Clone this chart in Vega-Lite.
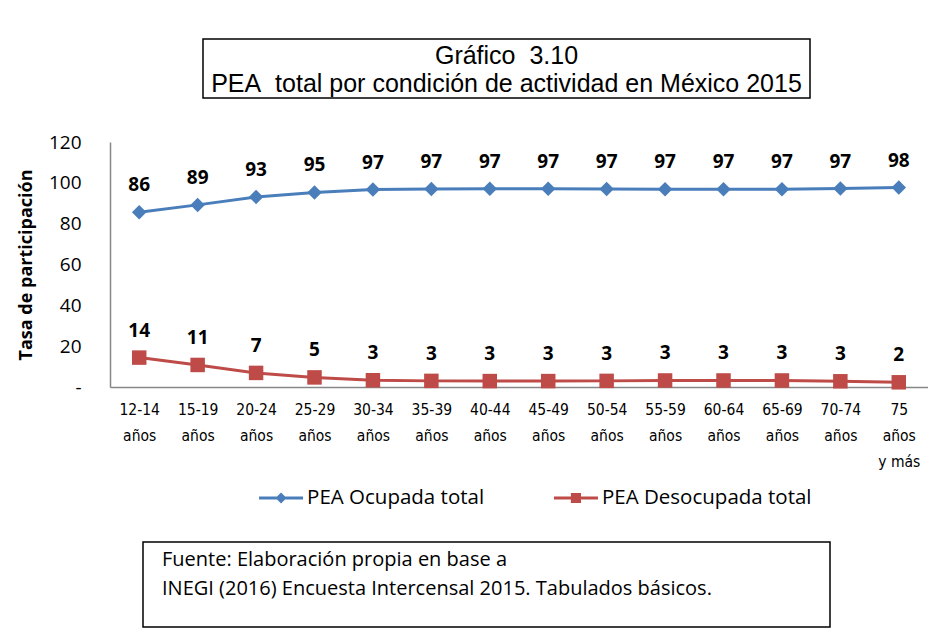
{
  "$schema": "https://vega.github.io/schema/vega-lite/v6.json",
  "background": "white",
  "padding": {"left": 17, "top": 38, "right": 0, "bottom": 0},
  "config": {"view": {"stroke": null}},
  "spacing": 13,
  "resolve": {"scale": {"color": "independent", "shape": "independent"}, "legend": {"color": "independent", "shape": "independent"}},
  "vconcat": [
    {
      "spacing": 0,
      "hconcat": [
        {
          "width": 92, "height": 81,
          "data": {"values": [{"t": ""}]},
          "mark": {"type": "text"},
          "encoding": {"text": {"field": "t"}}
        },
        {
          "width": 607, "height": 59,
          "view": {"stroke": "#000000", "strokeWidth": 1.5},
          "data": {"values": [{"t": "Gráfico\u00a0 3.10\nPEA\u00a0 total por condición de actividad en México 2015"}]},
          "mark": {"type": "text", "lineBreak": "\n", "font": "Liberation Sans", "fontSize": 25, "lineHeight": 28, "align": "center", "baseline": "middle", "dy": -13, "color": "#000000"},
          "encoding": {"text": {"field": "t"}}
        }
      ]
    },
    {
      "width": 818,
      "height": 245,
      "data": {"values": [
        {"edad": "12-14 años", "serie": "PEA Ocupada total", "tasa": 85.6},
        {"edad": "15-19 años", "serie": "PEA Ocupada total", "tasa": 89.2},
        {"edad": "20-24 años", "serie": "PEA Ocupada total", "tasa": 93.1},
        {"edad": "25-29 años", "serie": "PEA Ocupada total", "tasa": 95.3},
        {"edad": "30-34 años", "serie": "PEA Ocupada total", "tasa": 96.7},
        {"edad": "35-39 años", "serie": "PEA Ocupada total", "tasa": 97.0},
        {"edad": "40-44 años", "serie": "PEA Ocupada total", "tasa": 97.1},
        {"edad": "45-49 años", "serie": "PEA Ocupada total", "tasa": 97.1},
        {"edad": "50-54 años", "serie": "PEA Ocupada total", "tasa": 97.0},
        {"edad": "55-59 años", "serie": "PEA Ocupada total", "tasa": 96.8},
        {"edad": "60-64 años", "serie": "PEA Ocupada total", "tasa": 96.8},
        {"edad": "65-69 años", "serie": "PEA Ocupada total", "tasa": 96.8},
        {"edad": "70-74 años", "serie": "PEA Ocupada total", "tasa": 97.2},
        {"edad": "75 años y más", "serie": "PEA Ocupada total", "tasa": 97.7},
        {"edad": "12-14 años", "serie": "PEA Desocupada total", "tasa": 14.4},
        {"edad": "15-19 años", "serie": "PEA Desocupada total", "tasa": 10.8},
        {"edad": "20-24 años", "serie": "PEA Desocupada total", "tasa": 6.9},
        {"edad": "25-29 años", "serie": "PEA Desocupada total", "tasa": 4.7},
        {"edad": "30-34 años", "serie": "PEA Desocupada total", "tasa": 3.3},
        {"edad": "35-39 años", "serie": "PEA Desocupada total", "tasa": 3.0},
        {"edad": "40-44 años", "serie": "PEA Desocupada total", "tasa": 2.9},
        {"edad": "45-49 años", "serie": "PEA Desocupada total", "tasa": 2.9},
        {"edad": "50-54 años", "serie": "PEA Desocupada total", "tasa": 3.0},
        {"edad": "55-59 años", "serie": "PEA Desocupada total", "tasa": 3.2},
        {"edad": "60-64 años", "serie": "PEA Desocupada total", "tasa": 3.2},
        {"edad": "65-69 años", "serie": "PEA Desocupada total", "tasa": 3.2},
        {"edad": "70-74 años", "serie": "PEA Desocupada total", "tasa": 2.8},
        {"edad": "75 años y más", "serie": "PEA Desocupada total", "tasa": 2.3}
      ]},
      "encoding": {
        "x": {
          "field": "edad", "type": "ordinal", "sort": null,
          "scale": {"type": "point", "padding": 0.5},
          "axis": {
            "title": null, "labelAngle": 0, "ticks": false, "grid": false,
            "domainColor": "#868686", "domainWidth": 1.5,
            "labelFont": "DejaVu Sans Condensed", "labelFontSize": 15.5, "labelColor": "#000000",
            "labelPadding": 15, "labelLineHeight": 26, "labelBaseline": "top", "labelOverlap": false, "labelBound": false,
            "labelExpr": "datum.label == '75 años y más' ? ['75', 'años', 'y más'] : split(datum.label, ' ')"
          }
        },
        "y": {
          "field": "tasa", "type": "quantitative",
          "scale": {"domain": [0, 120], "nice": false},
          "axis": {
            "title": "Tasa de participación", "titleFont": "Open Sans", "titleFontWeight": "bold", "titleFontSize": 18, "titleColor": "#000000", "titlePadding": 13,
            "values": [0, 20, 40, 60, 80, 100, 120],
            "labelExpr": "datum.value == 0 ? '-\u00a0\u00a0' : datum.label",
            "labelFont": "Open Sans", "labelFontSize": 19, "labelColor": "#000000", "labelPadding": 29,
            "ticks": false, "grid": false, "domainColor": "#868686", "domainWidth": 1.5
          }
        },
        "color": {
          "field": "serie", "type": "nominal",
          "scale": {"domain": ["PEA Ocupada total", "PEA Desocupada total"], "range": ["#4A7EBB", "#BE4B48"]},
          "legend": null
        }
      },
      "layer": [
        {"mark": {"type": "line", "strokeWidth": 3}},
        {
          "mark": {"type": "point", "filled": true, "opacity": 1, "size": 210},
          "encoding": {
            "shape": {"field": "serie", "type": "nominal", "scale": {"domain": ["PEA Ocupada total", "PEA Desocupada total"], "range": ["diamond", "square"]}, "legend": null}
          }
        },
        {
          "mark": {"type": "text", "dy": -27, "font": "Open Sans", "fontWeight": "bold", "fontSize": 19, "baseline": "middle"},
          "encoding": {
            "text": {"field": "tasa", "type": "quantitative", "format": ".0f"},
            "color": {"value": "#000000"}
          }
        }
      ]
    },
    {
      "spacing": 28,
      "vconcat": [
        {
          "width": 637, "height": 30,
          "data": {"values": [{"serie": "PEA Ocupada total"}, {"serie": "PEA Desocupada total"}]},
          "encoding": {
            "x": {"field": "serie", "type": "nominal", "sort": null, "scale": {"type": "point", "padding": 0.58}, "axis": null}
          },
          "layer": [
            {
              "mark": {"type": "point", "filled": true, "opacity": 1, "size": 1936, "strokeWidth": 0},
              "encoding": {
                "shape": {"field": "serie", "type": "nominal", "scale": {"domain": ["PEA Ocupada total", "PEA Desocupada total"], "range": ["M-1,-0.068H1V0.068H-1Z M0,-0.25L0.25,0L0,0.25L-0.25,0Z", "M-1,-0.068H1V0.068H-1Z M-0.23,-0.23H0.23V0.23H-0.23Z"]}, "legend": null},
                "color": {"field": "serie", "type": "nominal", "scale": {"domain": ["PEA Ocupada total", "PEA Desocupada total"], "range": ["#4A7EBB", "#BE4B48"]}, "legend": null}
              }
            },
            {
              "mark": {"type": "text", "align": "left", "baseline": "middle", "dx": 26, "font": "Open Sans", "fontSize": 20.5, "color": "#000000"},
              "encoding": {"text": {"field": "serie"}}
            }
          ]
        },
        {
          "spacing": 0,
          "hconcat": [
            {
              "width": 32, "height": 85,
              "data": {"values": [{"t": ""}]},
              "mark": {"type": "text"},
              "encoding": {"text": {"field": "t"}}
            },
            {
              "width": 687, "height": 85,
              "view": {"stroke": "#000000", "strokeWidth": 1.5},
              "title": {
                "text": ["Fuente: Elaboración propia en base a", "INEGI (2016) Encuesta Intercensal 2015. Tabulados básicos."],
                "anchor": "start", "frame": "group", "orient": "top", "offset": -57, "dx": 19,
                "baseline": "top", "lineHeight": 29,
                "font": "Open Sans", "fontSize": 20, "fontWeight": "normal", "color": "#000000"
              },
              "data": {"values": [{"t": ""}]},
              "mark": {"type": "text"},
              "encoding": {"text": {"field": "t"}}
            }
          ]
        }
      ]
    }
  ]
}
